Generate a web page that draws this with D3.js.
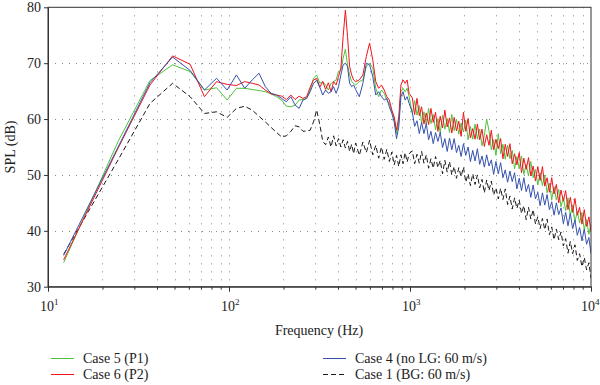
<!DOCTYPE html>
<html><head><meta charset="utf-8">
<script src="https://cdn.jsdelivr.net/npm/d3@7/dist/d3.min.js"></script>
<style>
body{margin:0;background:#fff}
svg{display:block}
</style>
</head><body>
<svg id="chart" width="600" height="385"></svg>
<script>
// ---- data ----
const freqs = [12.2,24.4,36.6,48.8,61.0,73.2,85.4,97.7,109.9,122.1,
134.3,146.5,158.7,170.9,183.1,195.3,207.5,219.7,231.9,244.1,
256.3,268.6,280.8,293.0,305.2,317.4,329.6,341.8,354.0,366.2,
378.4,390.6,402.8,415.0,427.2,439.5,451.7,463.9,476.1,488.3,
500.5,524.9,549.3,573.7,598.1,622.6,647.0,671.4,695.8,720.2,
744.6,769.0,793.5,817.9,842.3,866.7,891.1,915.5,939.9,964.4,
988.8,
1030,1061,1093,1126,1159,1194,1230,1267,1305,1344,
1384,1426,1469,1513,1558,1605,1653,1702,1754,1806,
1860,1916,1974,2033,2094,2157,2221,2288,2357,2427,
2500,2575,2652,2732,2814,2898,2985,3075,3167,3262,
3360,3461,3565,3671,3782,3895,4012,4132,4256,4384,
4515,4651,4790,4934,5082,5235,5392,5553,5720,5891,
6068,6250,6438,6631,6830,7034,7245,7463,7687,7917,
8155,8400,8652,8911,9178,9454,9737,10000];

// Case 5 (P1) - green
const case5 = [34.3,56.0,66.9,69.7,68.5,65.2,65.6,63.4,65.5,65.5,
65.3,65.1,64.9,64.5,64.0,63.4,62.3,62.2,62.5,63.4,
63.5,63.7,65.2,67.3,67.9,66.4,66.7,66.1,65.2,66.4,
66.7,67.0,68.5,68.8,70.9,72.5,69.7,67.9,66.7,66.4,
66.1,66.7,67.0,69.4,70.0,69.1,65.5,64.0,65.2,64.6,
63.4,62.8,61.3,60.1,57.4,59.5,64.9,65.5,64.9,65.5,
64.0,
61.0,63.3,60.7,62.4,59.3,61.3,59.1,61.9,59.2,60.8,
58.1,60.1,57.5,60.7,58.2,60.1,57.6,60.8,57.9,60.0,
57.3,59.3,57.7,59.8,56.3,58.7,56.4,59.1,56.4,58.2,
55.2,57.1,60.0,57.9,54.5,56.3,53.5,57.4,53.8,55.5,
52.8,55.3,52.9,54.4,51.1,53.3,51.1,53.4,50.1,51.9,
49.8,52.4,49.5,51.0,48.2,50.4,48.1,50.0,46.8,48.5,
45.6,47.9,45.5,47.4,44.3,46.0,43.6,45.9,42.7,44.6,
41.6,43.5,41.4,43.3,40.2,42.0,39.4,41.2];

// Case 6 (P2) - red
const case6 = [34.8,54.8,66.1,71.3,69.8,64.0,66.7,66.2,66.0,66.7,
66.4,66.1,65.2,64.5,64.3,64.1,63.5,64.3,63.5,64.1,
63.7,64.0,65.7,67.0,67.3,65.7,66.7,65.3,66.5,64.9,
66.7,66.1,67.6,69.1,74.8,79.5,74.8,69.4,67.9,67.0,
66.7,67.0,67.9,71.2,73.6,70.6,66.7,65.5,66.1,65.2,
64.0,63.4,61.6,60.4,58.0,60.4,66.1,67.0,66.4,67.0,
64.6,
63.8,60.8,63.7,60.6,62.2,59.1,61.1,59.0,61.9,59.4,
61.2,57.8,60.5,58.4,61.6,58.6,60.2,57.5,60.3,57.9,
59.6,56.9,61.2,57.8,60.1,56.6,58.3,56.4,59.1,56.3,
58.2,55.1,57.2,55.3,58.0,54.5,56.4,54.7,56.5,52.9,
55.5,53.3,55.6,52.0,53.8,51.8,54.0,50.4,53.0,51.0,
53.1,49.8,51.6,48.9,51.5,49.0,51.5,48.0,49.5,46.9,
49.5,46.6,48.3,45.0,47.3,45.3,47.2,43.8,46.0,43.3,
45.8,42.8,44.2,41.2,43.8,40.8,42.5,39.8];

// Case 4 (no LG: 60 m/s) - blue
const case4 = [35.6,55.0,66.5,71.1,68.7,65.2,67.3,65.2,67.9,65.5,
67.0,68.2,65.8,64.6,64.3,63.7,63.1,64.0,62.5,61.9,
63.4,63.7,64.9,66.4,66.9,65.7,64.3,65.2,64.6,64.9,
65.8,64.6,65.8,67.9,69.7,70.0,69.4,66.4,65.8,66.1,
65.3,64.0,66.4,70.0,69.7,67.6,64.3,64.9,64.0,63.4,
63.7,62.2,61.0,59.5,56.5,58.6,64.0,64.9,63.4,64.0,
62.8,
61.2,58.7,59.7,57.4,59.4,57.4,59.2,56.3,57.8,55.6,
57.6,56.0,57.6,54.9,56.5,54.2,56.6,54.5,56.5,54.0,
55.3,53.3,55.6,53.5,55.0,52.4,54.4,52.5,54.7,51.9,
53.4,51.4,53.6,51.6,52.7,50.1,52.4,50.2,52.2,49.5,
50.9,48.7,50.7,48.8,50.4,47.5,49.4,47.2,49.5,47.0,
48.3,46.0,48.2,45.7,46.9,44.5,46.8,44.6,46.5,43.8,
45.2,42.8,45.0,42.9,44.1,41.3,43.3,40.9,43.1,40.4,
41.9,39.2,40.6,38.2,40.3,37.6,38.8,35.9];

// Case 1 (BG: 60 m/s) - black dashed
const case1 = [35.8,52.7,62.8,66.4,64.0,61.0,61.3,60.3,61.9,62.3,
61.6,60.5,59.5,58.5,57.6,56.8,57.0,57.8,58.8,58.6,
57.8,57.9,58.0,59.5,61.6,59.0,56.0,55.4,56.8,55.0,
57.0,55.2,56.5,55.0,56.3,54.8,56.0,54.2,55.5,53.8,
55.7,53.5,55.9,54.0,56.2,53.6,55.3,53.0,55.0,52.8,
54.6,52.4,54.1,51.8,53.5,51.5,53.6,52.0,54.0,52.3,
53.8,
54.3,52.0,53.7,52.1,54.2,52.1,53.6,51.2,52.9,51.2,
53.3,51.3,52.6,50.2,52.6,50.5,52.4,50.0,51.5,49.4,
51.3,49.7,51.4,48.7,50.2,48.1,50.2,48.3,50.0,47.7,
49.2,46.8,49.1,47.2,48.9,46.4,47.7,45.7,47.6,45.6,
47.5,44.7,46.2,43.9,45.9,44.0,45.5,43.1,44.5,42.0,
44.2,42.1,43.8,41.2,42.5,40.4,42.2,40.2,42.1,39.3,
40.7,38.4,40.3,38.4,39.8,37.3,38.6,36.0,38.1,35.9,
37.5,34.7,35.9,33.6,35.2,33.0,34.3,31.5];

const yTickValues = [30,40,50,60,70,80];
const xMajorExps = [1,2,3,4];
const seriesNames = ["Case 5 (P1)","Case 6 (P2)","Case 4 (no LG: 60 m/s)","Case 1 (BG: 60 m/s)"];
const seriesColors = ["#4fc23c","#f4121c","#3552ad","#1a1a1a"];

// ---- chart ----
const FONT = "Liberation Serif";
const TXT = "#222";
const svg = d3.select("#chart");
svg.append("rect").attr("width",600).attr("height",385).attr("fill","#fff");

const L=48, R=591, T=7.3, B=286.7;
const x = d3.scaleLog().domain([10,10000]).range([L,R]);
const y = d3.scaleLinear().domain([30,80]).range([B,T]);

const grid = svg.append("g");
const allXTicks = x.ticks().filter(d => d>10 && d<10000);
grid.selectAll("line.vx").data(allXTicks).enter().append("line")
  .attr("x1",d=>Math.round(x(d))+0.5).attr("x2",d=>Math.round(x(d))+0.5)
  .attr("y1",T).attr("y2",B)
  .attr("stroke","#8a8a8a").attr("stroke-width",1).attr("stroke-dasharray","1,7");
grid.selectAll("line.hy").data(yTickValues.filter(d=>d>30 && d<80)).enter().append("line")
  .attr("x1",L).attr("x2",R)
  .attr("y1",d=>Math.round(y(d))+0.5).attr("y2",d=>Math.round(y(d))+0.5)
  .attr("stroke","#8a8a8a").attr("stroke-width",1).attr("stroke-dasharray","1,6");

svg.append("defs").append("clipPath").attr("id","clip")
  .append("rect").attr("x",L).attr("y",T).attr("width",R-L).attr("height",B-T);

const allSeries = [case5, case6, case4, case1];
const order = [3,0,1,2];
const line = d3.line().x((d,i)=>x(freqs[i])).y(d=>y(d));
const lines = svg.append("g").attr("clip-path","url(#clip)");
order.forEach(k => {
  lines.append("path").datum(allSeries[k])
    .attr("d", line)
    .attr("fill","none")
    .attr("stroke", seriesColors[k])
    .attr("stroke-width", 1)
    .attr("stroke-linejoin","round")
    .attr("stroke-dasharray", k===3 ? "5,3" : null);
});

// frame
svg.append("rect").attr("x",L).attr("y",T).attr("width",R-L).attr("height",B-T)
  .attr("fill","none").attr("stroke","#333").attr("stroke-width",1);

// x axis ticks
const xAxis = svg.append("g").attr("transform",`translate(0,${B})`)
  .call(d3.axisBottom(x).tickValues(x.ticks()).tickSize(3).tickFormat("").tickSizeOuter(0));
xAxis.select(".domain").attr("stroke","#333");
xAxis.selectAll(".tick line").attr("stroke","#333")
  .attr("y2", d => Number.isInteger(Math.log10(d)) ? 5 : 3);

// x labels with superscripts
const xl = svg.append("g");
xMajorExps.forEach(e => {
  const px = x(Math.pow(10,e));
  const t = xl.append("text").attr("x", e===4 ? px-10 : px-8).attr("y", 311)
    .attr("text-anchor","start").attr("font-size",14)
    .attr("font-family",FONT).attr("fill",TXT);
  t.append("tspan").text("10");
  t.append("tspan").attr("dy",-6).attr("font-size",9).text(String(e));
});

// y axis
const yAxis = svg.append("g").attr("transform",`translate(${L},0)`)
  .call(d3.axisLeft(y).tickValues(yTickValues).tickSize(4).tickSizeOuter(0));
yAxis.select(".domain").attr("stroke","#333");
yAxis.selectAll(".tick line").attr("stroke","#333");
yAxis.selectAll(".tick text").attr("fill",TXT).attr("x",-7)
  .attr("font-family",FONT).attr("font-size",14);

// axis titles
svg.append("text").attr("x",319).attr("y",335).attr("text-anchor","middle")
  .attr("font-family",FONT).attr("fill",TXT).attr("font-size",14).text("Frequency (Hz)");
svg.append("text").attr("transform","translate(15,147) rotate(-90)")
  .attr("text-anchor","middle").attr("font-family",FONT).attr("fill",TXT)
  .attr("font-size",14).text("SPL (dB)");

// legend
const legPos = [[51,358],[51,374],[323,358],[323,374]];
seriesNames.forEach((n,k) => {
  const [lx,ly] = legPos[k];
  svg.append("line").attr("x1",lx).attr("x2",lx+23).attr("y1",ly+0.5).attr("y2",ly+0.5)
    .attr("stroke",seriesColors[k]).attr("stroke-width",1)
    .attr("stroke-dasharray", k===3 ? "5,3" : null);
  svg.append("text").attr("x",lx+32).attr("y",ly+4.5).attr("font-size",14)
    .attr("font-family",FONT).attr("fill",TXT).text(n);
});
</script>
</body></html>
